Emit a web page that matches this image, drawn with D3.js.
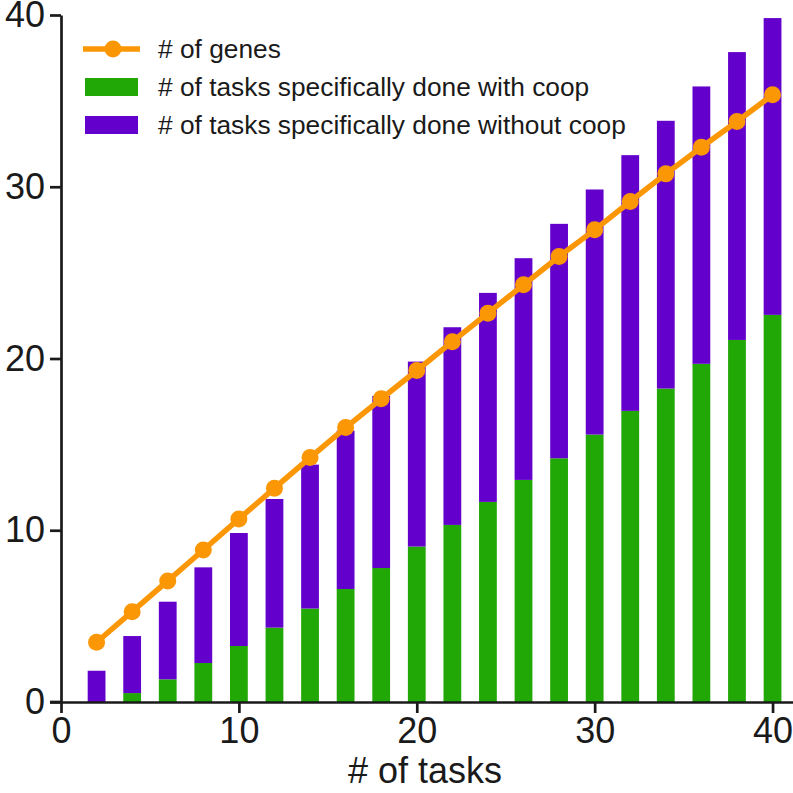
<!DOCTYPE html>
<html>
<head>
<meta charset="utf-8">
<script src="https://cdn.jsdelivr.net/npm/d3@7"></script>
<style>
  body { margin: 0; background: #fff; }
  svg { display: block; font-family: "Liberation Sans", Arial, sans-serif; }
</style>
</head>
<body>
<svg id="svg1" width="793" height="793"></svg>
<script>
// number of tasks (x)
var tasks = [2, 4, 6, 8, 10, 12, 14, 16, 18, 20, 22, 24, 26, 28, 30, 32, 34, 36, 38, 40];
// tasks specifically done with coop (green, bottom)
var withCoop = [0, 0.52, 1.32, 2.27, 3.26, 4.33, 5.44, 6.58, 7.8, 9.05, 10.31, 11.65, 12.93, 14.19, 15.57, 16.95, 18.25, 19.69, 21.08, 22.54];
// tasks specifically done without coop (purple, stacked on top)
var withoutCoop = [1.82, 3.32, 4.52, 5.57, 6.58, 7.49, 8.38, 9.22, 10.02, 10.77, 11.51, 12.17, 12.91, 13.65, 14.27, 14.89, 15.59, 16.15, 16.76, 17.28];
// number of genes (orange line)
var genes = [3.48, 5.26, 7.05, 8.85, 10.66, 12.45, 14.23, 15.98, 17.65, 19.3, 20.98, 22.64, 24.29, 25.94, 27.49, 29.14, 30.75, 32.3, 33.8, 35.35];

var xTicks = [0, 10, 20, 30, 40];
var yTicks = [0, 10, 20, 30, 40];
var legendLabels = ['# of genes', '# of tasks specifically done with coop', '# of tasks specifically done without coop'];

var orange = '#fb9605', green = '#22a806', purple = '#6400cc';

var svg = d3.select('#svg1');

var x = d3.scaleLinear().domain([0, 41.15]).range([61, 793]);
var y = d3.scaleLinear().domain([0, 40]).range([702, 15]);

var barW = x(1) - x(0);

var rows = tasks.map(function(t, i) {
    return {t: t, g: withCoop[i], p: withoutCoop[i], genes: genes[i]};
});

// green bars
svg.append('g').selectAll('rect')
    .data(rows)
    .enter()
    .append('rect')
    .attr('x', function(d){ return x(d.t) - barW/2; })
    .attr('width', barW)
    .attr('y', function(d){ return y(d.g); })
    .attr('height', function(d){ return y(0) - y(d.g); })
    .attr('fill', green);

// purple bars on top
svg.append('g').selectAll('rect')
    .data(rows)
    .enter()
    .append('rect')
    .attr('x', function(d){ return x(d.t) - barW/2; })
    .attr('width', barW)
    .attr('y', function(d){ return y(d.g + d.p); })
    .attr('height', function(d){ return y(d.g) - y(d.g + d.p); })
    .attr('fill', purple);

// genes line
var line = d3.line()
    .x(function(d){ return x(d.t); })
    .y(function(d){ return y(d.genes); });

svg.append('path')
    .datum(rows)
    .attr('d', line)
    .attr('fill', 'none')
    .attr('stroke', orange)
    .attr('stroke-width', 5.5);

svg.append('g').selectAll('circle')
    .data(rows)
    .enter()
    .append('circle')
    .attr('cx', function(d){ return x(d.t); })
    .attr('cy', function(d){ return y(d.genes); })
    .attr('r', 8.5)
    .attr('fill', orange);

// axes
var xAxis = svg.append('g')
    .attr('transform', 'translate(0,' + y(0) + ')')
    .call(d3.axisBottom(x).tickValues(xTicks).tickSize(11).tickSizeOuter(0).tickPadding(4));

var yAxis = svg.append('g')
    .attr('transform', 'translate(' + x(0) + ',0)')
    .call(d3.axisLeft(y).tickValues(yTicks).tickSize(11).tickSizeOuter(0).tickPadding(5));

[xAxis, yAxis].forEach(function(a) {
    a.select('.domain').attr('stroke', '#1a1a1a').attr('stroke-width', 2.7);
    a.selectAll('.tick line').attr('stroke', '#1a1a1a').attr('stroke-width', 2.7);
    a.selectAll('.tick text')
        .attr('fill', '#1a1a1a')
        .style('font-size', '36px')
        .style('font-family', '"Liberation Sans", Arial, sans-serif');
});

// extend x axis line left to meet the 0 tick
svg.append('line')
    .attr('x1', x(0) - 11).attr('x2', x(0))
    .attr('y1', y(0)).attr('y2', y(0))
    .attr('stroke', '#1a1a1a').attr('stroke-width', 2.7);

svg.append('text')
    .attr('x', 425)
    .attr('y', 783)
    .attr('text-anchor', 'middle')
    .attr('fill', '#1a1a1a')
    .style('font-size', '36px')
    .text('# of tasks');

// legend
var legend = svg.append('g');
var rowY = [49, 87, 125];

legend.append('line')
    .attr('x1', 83).attr('x2', 140)
    .attr('y1', rowY[0]).attr('y2', rowY[0])
    .attr('stroke', orange).attr('stroke-width', 5.5);
legend.append('circle')
    .attr('cx', 113).attr('cy', rowY[0]).attr('r', 8.5).attr('fill', orange);

legend.append('rect')
    .attr('x', 85).attr('y', rowY[1] - 9).attr('width', 53).attr('height', 18)
    .attr('fill', green);
legend.append('rect')
    .attr('x', 85).attr('y', rowY[2] - 9).attr('width', 53).attr('height', 18)
    .attr('fill', purple);

legend.selectAll('text')
    .data(legendLabels)
    .enter()
    .append('text')
    .attr('x', 158)
    .attr('y', function(d, i){ return rowY[i] + 9; })
    .attr('fill', '#1a1a1a')
    .style('font-size', '26.3px')
    .text(function(d){ return d; });
</script>
</body>
</html>
